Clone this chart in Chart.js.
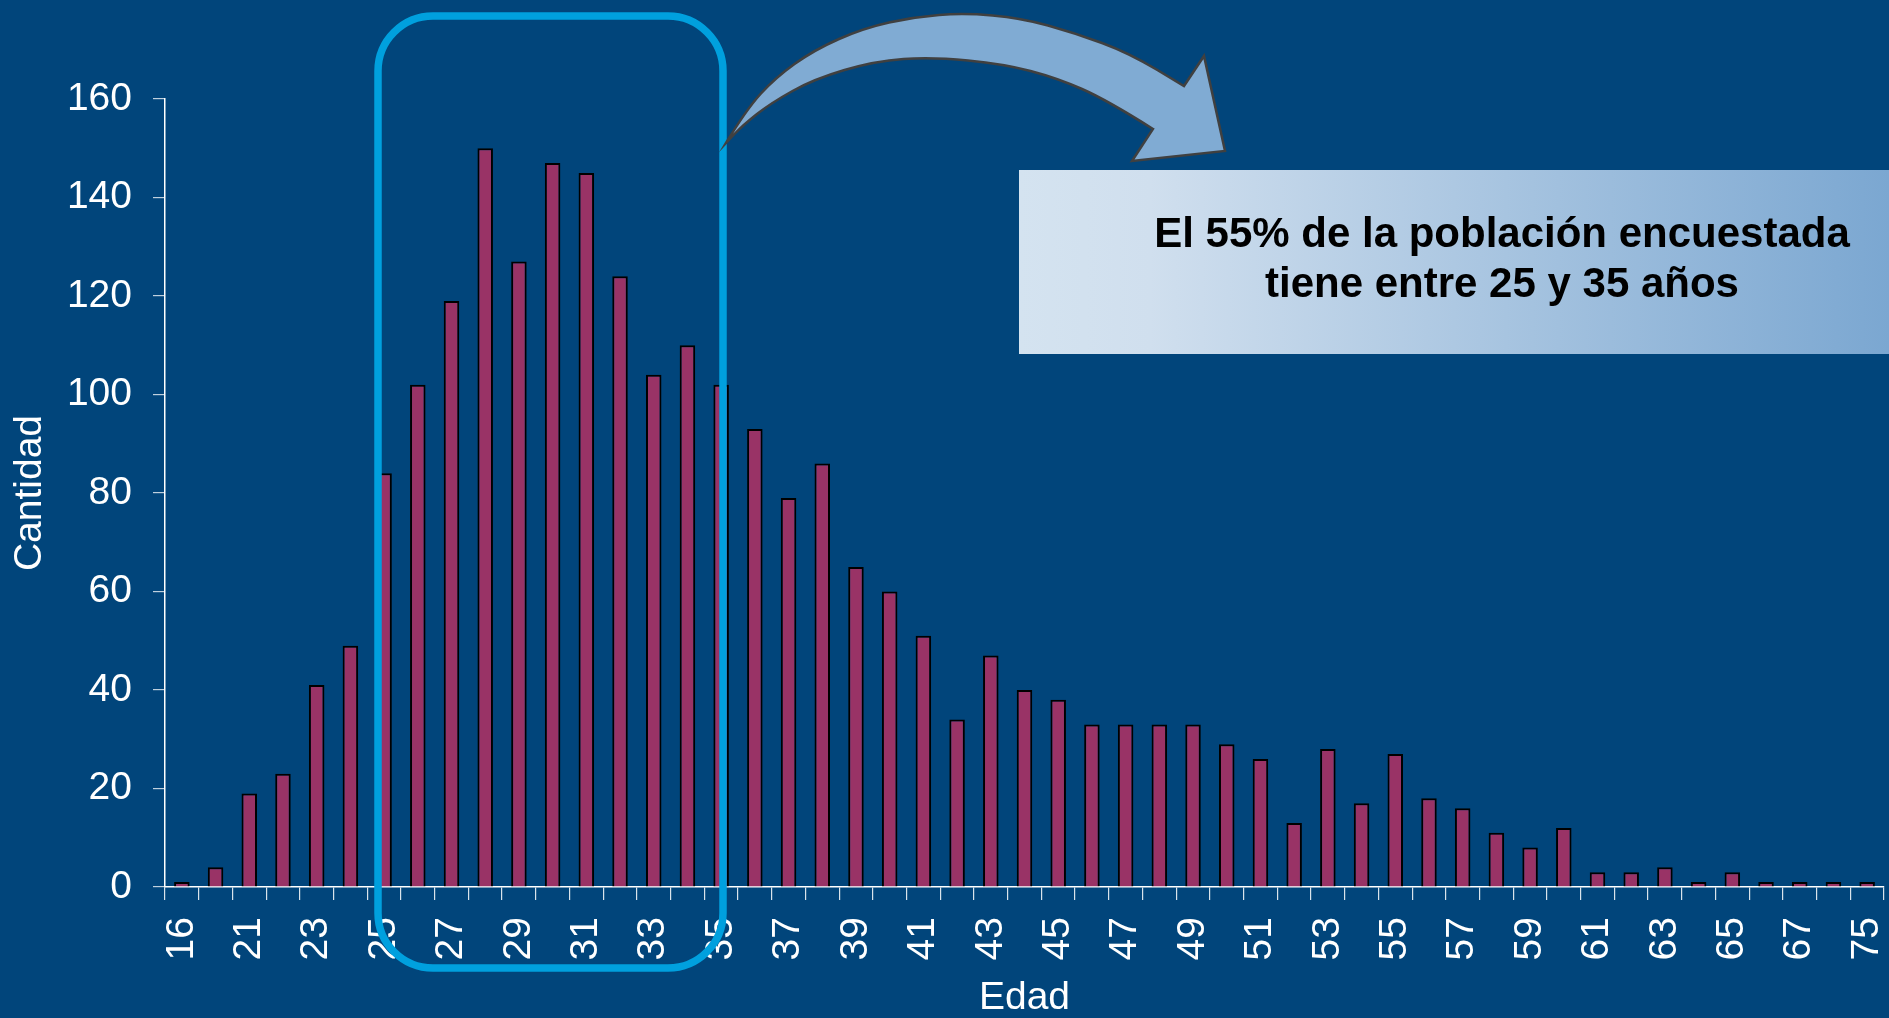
<!DOCTYPE html>
<html>
<head>
<meta charset="utf-8">
<script src="https://cdn.jsdelivr.net/npm/chart.js@4.4.0/dist/chart.umd.min.js"></script>
<style>
  html, body { margin: 0; padding: 0; background: #01457b; overflow: hidden; }
  #wrap { width: 1889px; height: 1018px; position: relative; }
</style>
</head>
<body>
<div id="wrap"><canvas id="barChart"></canvas></div>
<script>
// edades (two of them are never labelled on the axis)
var edades = ['16', '19', '21', '22', '23', '24', '25', '26', '27', '28', '29', '30', '31', '32', '33', '34', '35',
    '36', '37', '38', '39', '40', '41', '42', '43', '44', '45', '46', '47', '48', '49', '50', '51', '52', '53',
    '54', '55', '56', '57', '58', '59', '60', '61', '62', '63', '64', '65', '66', '67', '69', '75'];
var cantidades = [1, 4, 19, 23, 41, 49, 84, 102, 119, 150, 127, 147, 145, 124, 104, 110, 102,
    93, 79, 86, 65, 60, 51, 34, 47, 40, 38, 33, 33, 33, 33, 29, 26, 13, 28,
    17, 27, 18, 16, 11, 8, 12, 3, 3, 4, 1, 3, 1, 1, 1, 1];
var yMax = 160;
var yStep = 20;
var nota = ['El 55% de la población encuestada', 'tiene entre 25 y 35 años'];

var font = "'Liberation Sans', Arial, sans-serif";

// rounded box, curved arrow and the note
var decoracion = {
    id: 'decoracion',
    afterDraw: function(chart) {
        var ctx = chart.ctx;
        ctx.save();

        // cyan rounded frame round 25..35
        ctx.strokeStyle = '#00a0de';
        ctx.lineWidth = 7.5;
        ctx.beginPath();
        ctx.roundRect(378, 16, 345, 952, 55);
        ctx.stroke();

        // curved arrow
        var outer = [[726, 143], [746, 110], [775, 78], [814, 50], [864, 28], [914, 17], [964, 13],
            [1021, 18], [1075, 33], [1129, 53], [1184, 86]];
        var head = [[1204, 56], [1225, 151], [1132, 161], [1153, 129]];
        var inner = [[1153, 129], [1107, 100], [1057, 78], [1004, 64], [932, 57], [875, 61],
            [814, 79], [771, 103], [743, 125], [726, 143]];
        function smooth(pts, first) {
            if (first) ctx.moveTo(pts[0][0], pts[0][1]);
            else ctx.lineTo(pts[0][0], pts[0][1]);
            for (var i = 1; i < pts.length - 1; i++) {
                var mx = (pts[i][0] + pts[i + 1][0]) / 2;
                var my = (pts[i][1] + pts[i + 1][1]) / 2;
                ctx.quadraticCurveTo(pts[i][0], pts[i][1], mx, my);
            }
            ctx.lineTo(pts[pts.length - 1][0], pts[pts.length - 1][1]);
        }
        ctx.beginPath();
        smooth(outer, true);
        head.forEach(function(p) { ctx.lineTo(p[0], p[1]); });
        smooth(inner, false);
        ctx.closePath();
        ctx.fillStyle = '#80abd3';
        ctx.fill();
        ctx.strokeStyle = '#404040';
        ctx.lineWidth = 2.5;
        ctx.lineJoin = 'miter';
        ctx.stroke();

        // note box
        var g = ctx.createLinearGradient(1019, 0, 1889, 0);
        g.addColorStop(0, '#d4e3f0');
        g.addColorStop(0.15, '#d0dfee');
        g.addColorStop(1, '#7ba7d1');
        ctx.fillStyle = g;
        ctx.fillRect(1019, 170, 870, 184);
        ctx.fillStyle = '#000000';
        ctx.font = 'bold 42px ' + font;
        ctx.textAlign = 'center';
        ctx.textBaseline = 'alphabetic';
        ctx.fillText(nota[0], 1502, 247);
        ctx.fillText(nota[1], 1502, 297);
        ctx.restore();
    }
};

var ctxB = document.getElementById('barChart').getContext('2d');
var myBarChart = new Chart(ctxB, {
    type: 'bar',
    data: {
        labels: edades,
        datasets: [{
            label: 'Cantidad',
            data: cantidades,
            backgroundColor: '#993366',
            borderColor: '#000000',
            borderWidth: 2,
            barPercentage: 0.46,
            categoryPercentage: 1
        }]
    },
    options: {
        responsive: true,
        maintainAspectRatio: false,
        animation: false,
        layout: { padding: { top: 99, right: 5, left: 0, bottom: 0 } },
        plugins: {
            legend: { display: false },
            tooltip: { enabled: false }
        },
        scales: {
            x: {
                offset: true,
                grid: {
                    offset: true,
                    drawOnChartArea: false,
                    drawTicks: true,
                    tickLength: 13,
                    color: 'rgba(255,255,255,0.85)',
                    lineWidth: 1.2
                },
                border: { display: true, color: '#ffffff', width: 1.5 },
                ticks: {
                    autoSkip: false,
                    minRotation: 90,
                    maxRotation: 90,
                    padding: 17,
                    color: '#ffffff',
                    font: { family: font, size: 39 },
                    callback: function(v, i) { return i % 2 === 0 ? edades[i] : ''; }
                },
                title: {
                    display: true,
                    text: 'Edad',
                    color: '#ffffff',
                    font: { family: font, size: 39, lineHeight: 1 },
                    padding: 0
                },
                afterFit: function(scale) {
                    scale.height = 131;
                    scale.paddingLeft = 0;
                    scale.paddingRight = 0;
                }
            },
            y: {
                min: 0,
                max: yMax,
                grid: {
                    drawOnChartArea: false,
                    drawTicks: true,
                    tickLength: 12,
                    color: 'rgba(255,255,255,0.75)',
                    lineWidth: 1.2
                },
                border: { display: true, color: '#ffffff', width: 1.5 },
                ticks: {
                    stepSize: yStep,
                    padding: 21,
                    color: '#ffffff',
                    font: { family: font, size: 39 }
                },
                title: {
                    display: true,
                    text: 'Cantidad',
                    color: '#ffffff',
                    font: { family: font, size: 39, lineHeight: 1 },
                    padding: { top: 11, bottom: 0 }
                },
                afterFit: function(scale) {
                    scale.width = 165;
                    scale.paddingTop = 0;
                    scale.paddingBottom = 0;
                }
            }
        }
    },
    plugins: [decoracion]
});
</script>
</body>
</html>
